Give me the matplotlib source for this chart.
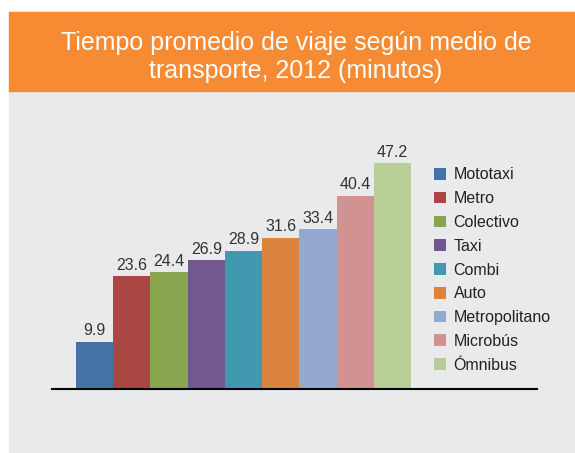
import matplotlib
matplotlib.use('Agg')
import matplotlib.pyplot as plt
from matplotlib.patches import Rectangle

# data
modes = ['Mototaxi', 'Metro', 'Colectivo', 'Taxi', 'Combi', 'Auto',
         'Metropolitano', 'Microbús', 'Ómnibus']
minutes = [9.9, 23.6, 24.4, 26.9, 28.9, 31.6, 33.4, 40.4, 47.2]
colors = ['#4572A7', '#AA4643', '#89A54E', '#71588F', '#4198AF', '#DB843D',
          '#93A9CF', '#D19392', '#B9CD96']
title = 'Tiempo promedio de viaje según medio de\ntransporte, 2012 (minutos)'

plt.rcParams['font.family'] = ['Liberation Sans', 'DejaVu Sans']

W, H = 575, 453
fig = plt.figure(figsize=(W / 100, H / 100), dpi=100)
fig.patch.set_facecolor('white')

# panels in pixel coords (y from top)
def px_rect(x0, y0, x1, y1, color):
    fig.patches.append(Rectangle((x0 / W, 1 - y1 / H), (x1 - x0) / W, (y1 - y0) / H,
                                 transform=fig.transFigure, color=color, zorder=-5))

px_rect(9, 91, W, H, '#E9EAEC')
px_rect(9, 12, W, 91, '#F68B33')
fig.text(296 / W, 1 - 57 / H, title, ha='center', va='center', color='white',
         fontsize=18, linespacing=1.25)

# axes: x spans 52..537 px, baseline at y=389 px
ax_l, ax_r, base, top = 52, 537, 389, 140
ax = fig.add_axes([ax_l / W, 1 - base / H, (ax_r - ax_l) / W, (base - top) / H])
ax.set_zorder(2)
ax.set_facecolor('none')
x = list(range(len(modes)))
bars = ax.bar(x, minutes, width=1.0, color=colors, edgecolor='none')
ppu = (411 - 76) / 9.0
ax.set_xlim(-0.5 - (76 - ax_l) / ppu, 8.5 + (ax_r - 411) / ppu)
ax.set_ylim(0, (base - top) / 4.78)
for b, v in zip(bars, minutes):
    ax.annotate(f'{v:.1f}', (b.get_x() + b.get_width() / 2, v), xytext=(0, 2.5),
                textcoords='offset points', ha='center', va='bottom',
                fontsize=11.5, color='#333333')
for b, m in zip(bars.patches, modes):
    b.set_label(m)
for s in ['top', 'right', 'left']:
    ax.spines[s].set_visible(False)
ax.spines['bottom'].set_linewidth(1.5)
ax.spines['bottom'].set_color('black')
ax.set_xticks([])
ax.set_yticks([])

leg = fig.legend(handles=bars.patches, loc='upper left',
                 bbox_to_anchor=(428 / W, 1 - 161 / H), frameon=False,
                 fontsize=11.5, handlelength=0.75, handleheight=0.75,
                 handletextpad=0.45, labelspacing=0.55, borderaxespad=0)
for t in leg.get_texts():
    t.set_color('#222222')

fig.savefig('out.png', dpi=100)
